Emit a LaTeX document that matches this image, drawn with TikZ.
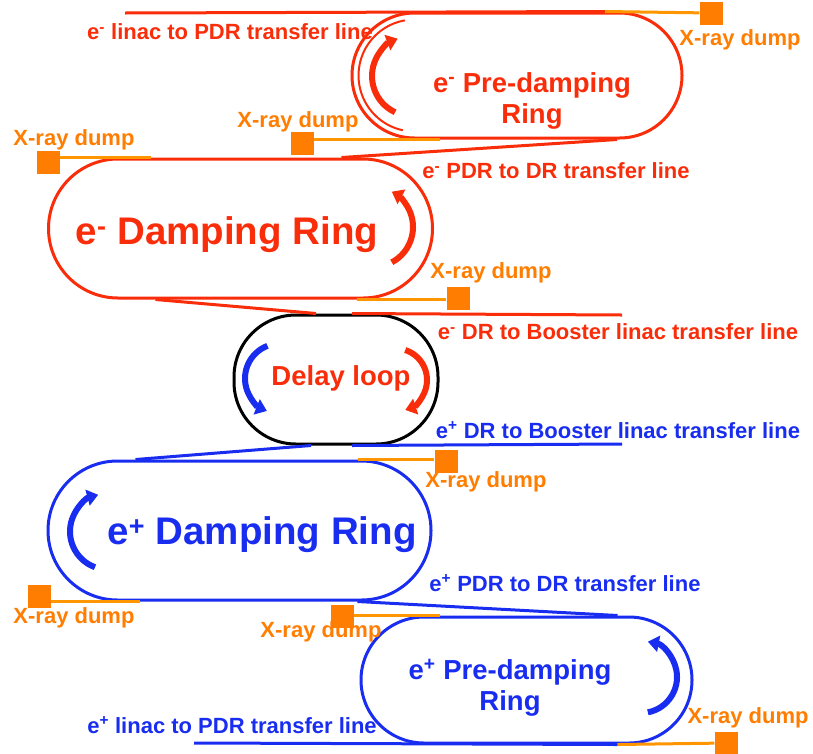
\documentclass[tikz,border=0pt]{standalone}
\usepackage{fontspec}
\setmainfont{Liberation Sans}
\usetikzlibrary{positioning,shapes.misc,arrows.meta}

\definecolor{eminus}{RGB}{250,45,10}
\definecolor{eplus}{RGB}{25,45,240}
\definecolor{dumporange}{RGB}{255,125,0}
\definecolor{dumpline}{RGB}{255,150,0}

\tikzset{
  ering/.style={draw=eminus, line width=3pt, rounded rectangle, inner sep=0pt},
  pring/.style={draw=eplus, line width=3pt, rounded rectangle, inner sep=0pt},
  eline/.style={draw=eminus, line width=3pt},
  pline/.style={draw=eplus, line width=3pt},
  xline/.style={draw=dumpline, line width=3pt},
  dump/.style={fill=dumporange, minimum size=23pt, inner sep=0pt},
  lbl/.style={font=\bfseries\fontsize{22}{24}\selectfont, inner sep=0pt},
  xlbl/.style={lbl, text=dumporange},
  midlbl/.style={font=\bfseries\fontsize{27.5}{31}\selectfont, align=center, inner sep=0pt},
  biglbl/.style={font=\bfseries\fontsize{38.5}{42}\selectfont, inner sep=0pt},
  swoosh/.style={line width=6pt, -{Triangle[width=16pt,length=11pt]}}
}

\begin{document}
\begin{tikzpicture}[x=1pt,y=1pt]
\useasboundingbox (0,0) rectangle (813,-753);

% Define rings
\node[ering, minimum width=330pt, minimum height=125pt] (epdr) at (517,-75.5) {};
\node[ering, minimum width=384pt, minimum height=139pt] (edr) at (240.5,-228.5) {};
\node[draw=black, line width=3pt, rectangle, rounded corners=62pt,
      minimum width=204pt, minimum height=129pt] (dloop) at (336,-379.5) {};
\node[pring, minimum width=383pt, minimum height=139pt] (pdr) at (239.5,-530.5) {};
\node[pring, minimum width=331pt, minimum height=126pt] (ppdr) at (526.5,-680) {};

% X-ray dumps
\node[dump] (dumpA) at (711,-13) {};
\node[dump] (dumpB) at (302,-143) {};
\node[dump] (dumpC) at (48,-162) {};
\node[dump] (dumpD) at (458,-298) {};
\node[dump] (dumpE) at (446,-461) {};
\node[dump] (dumpF) at (39,-596) {};
\node[dump] (dumpG) at (342,-616) {};
\node[dump] (dumpH) at (726,-743) {};

% Free ends of the transfer lines
\coordinate (elinac) at (125,-13);
\coordinate (eboost) at (622,-315);
\coordinate (pboost) at (622,-444);
\coordinate (plinac) at (194,-743);

% Draw transfer lines
\draw[eline] (elinac) -- ([xshift=88pt]epdr.north);
\draw[xline] ([xshift=88pt]epdr.north) -- (dumpA);
\draw[eline, line width=2pt] (epdr.center) ++(-102.5,0) ++(100:56) arc[start angle=100, end angle=258, radius=56];
\draw[xline] (dumpB.east |- epdr.south) -- ([xshift=-77pt]epdr.south);
\draw[eline] ([xshift=100pt]epdr.south) -- ([xshift=101pt]edr.north);
\draw[xline] (dumpC.east |- edr.north) -- ([xshift=-90pt]edr.north);
\draw[xline] ([xshift=116pt]edr.south) -- (dumpD.west |- edr.south);
\draw[eline] ([xshift=-85pt]edr.south) -- ([xshift=-20pt]dloop.north);
\draw[eline] ([xshift=16pt]dloop.north) -- (eboost);
\draw[pline] ([xshift=16pt]dloop.south) -- (pboost);
\draw[pline] ([xshift=-25pt]dloop.south) -- ([xshift=-104pt]pdr.north);
\draw[xline] ([xshift=118pt]pdr.north) -- (dumpE.west |- pdr.north);
\draw[xline] (dumpF.east |- pdr.south) -- ([xshift=-100pt]pdr.south);
\draw[pline] ([xshift=118pt]pdr.south) -- ([xshift=91pt]ppdr.north);
\draw[xline] (dumpG.east |- ppdr.north) -- ([xshift=-87pt]ppdr.north);
\draw[pline] (plinac) -- ([xshift=91pt]ppdr.south);
\draw[xline] ([xshift=91pt]ppdr.south) -- (dumpH);

% Beam direction arrows
\draw[swoosh, eminus] (412,-76) ++(245:40) arc[start angle=245, end angle=111, radius=40];
\draw[swoosh, eminus] (373,-227) ++(-62:40) arc[start angle=-62, end angle=62, radius=40];
\draw[swoosh, eplus] (280,-378.5) ++(111:35) arc[start angle=111, end angle=248, radius=35];
\draw[swoosh, eminus] (395.5,-380) ++(72:31.5) arc[start angle=72, end angle=-72, radius=31.5];
\draw[swoosh, eplus] (108,-531.5) ++(250:38) arc[start angle=250, end angle=105, radius=38];
\draw[swoosh, eplus] (641,-677) ++(-79:36) arc[start angle=-79, end angle=79, radius=36];

% Ring names
\node[midlbl, text=eminus] (epdrname) at (532,-101) {e\textsuperscript{-} Pre-damping\\Ring};
\node[biglbl, text=eminus] (edrname) at (227,-235) {e\textsuperscript{-} Damping Ring};
\node[midlbl, text=eminus] (dloopname) at (341,-378) {Delay loop};
\node[biglbl, text=eplus] (pdrname) at (262,-535) {e\textsuperscript{+} Damping Ring};
\node[midlbl, text=eplus] (ppdrname) at (510,-688) {e\textsuperscript{+} Pre-damping\\Ring};

% Line labels
\node[lbl, text=eminus] (elinaclbl) at (230,-32) {e\textsuperscript{-} linac to PDR transfer line};
\node[lbl, text=eminus] (etrlbl) at (556,-171) {e\textsuperscript{-} PDR to DR transfer line};
\node[lbl, text=eminus] (eboostlbl) at (618,-332) {e\textsuperscript{-} DR to Booster linac transfer line};
\node[lbl, text=eplus] (pboostlbl) at (618,-430) {e\textsuperscript{+} DR to Booster linac transfer line};
\node[lbl, text=eplus] (ptrlbl) at (565,-583) {e\textsuperscript{+} PDR to DR transfer line};
\node[lbl, text=eplus] (plinaclbl) at (232,-725) {e\textsuperscript{+} linac to PDR transfer line};

% Dump labels
\node[xlbl] (dumpAlbl) at (740,-40) {X-ray dump};
\node[xlbl] (dumpBlbl) at (298,-122) {X-ray dump};
\node[xlbl] (dumpClbl) at (74,-140) {X-ray dump};
\node[xlbl] (dumpDlbl) at (491,-273) {X-ray dump};
\node[xlbl] (dumpElbl) at (486,-482) {X-ray dump};
\node[xlbl] (dumpFlbl) at (74,-618) {X-ray dump};
\node[xlbl] (dumpGlbl) at (321,-632) {X-ray dump};
\node[xlbl] (dumpHlbl) at (748,-718) {X-ray dump};

\end{tikzpicture}
\end{document}
